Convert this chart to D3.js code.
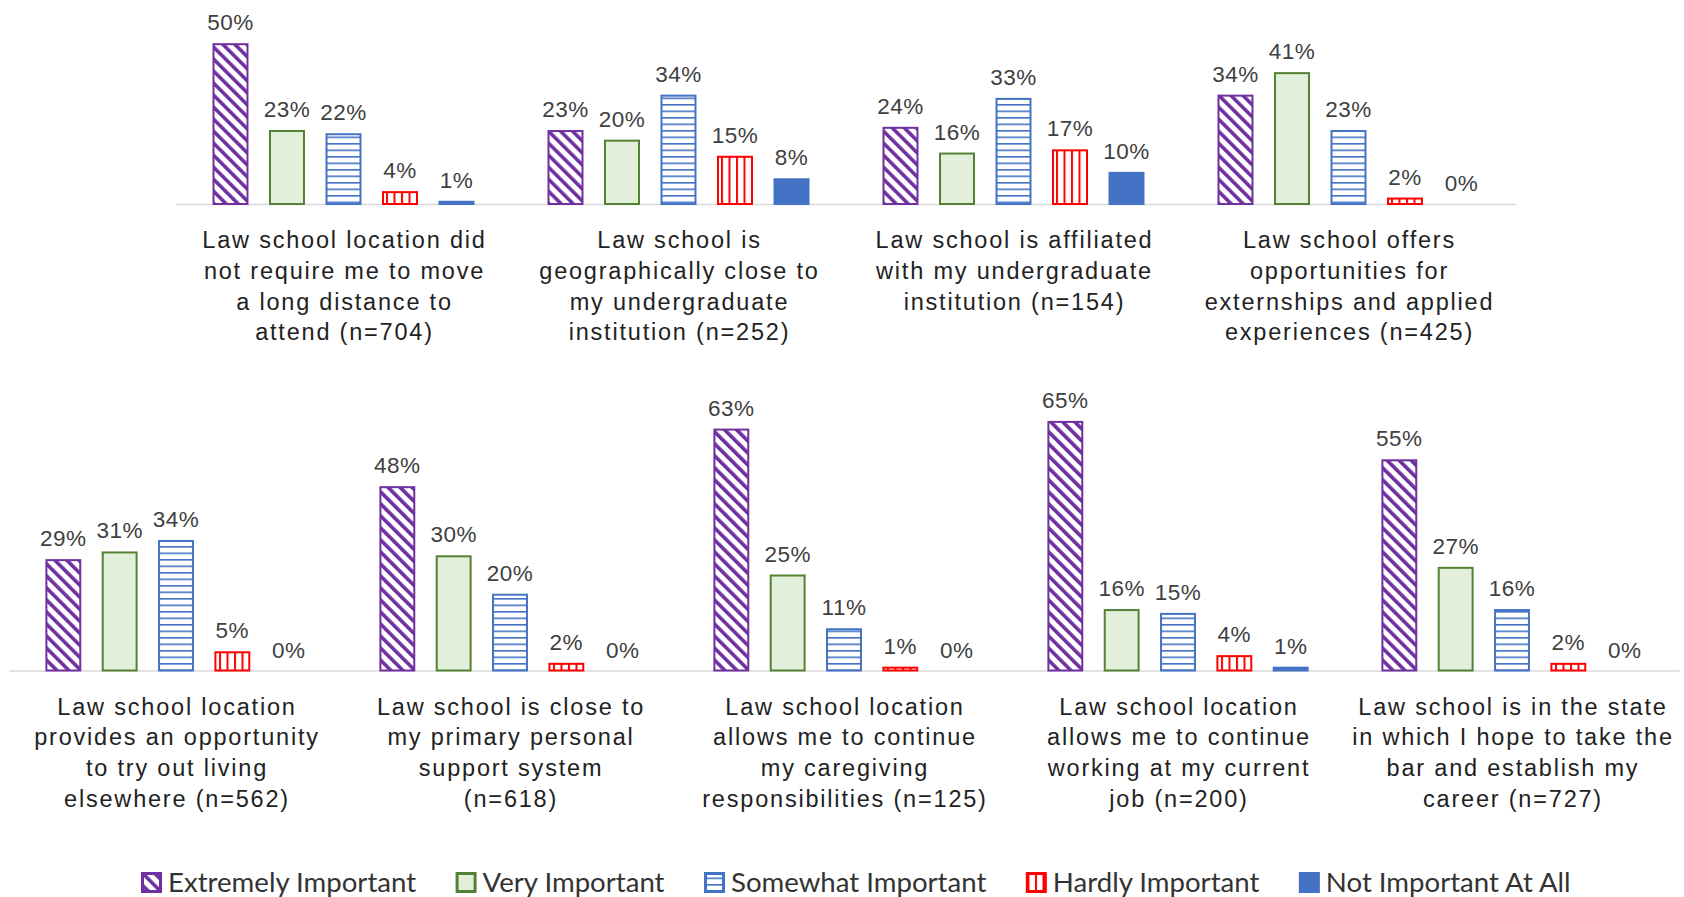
<!DOCTYPE html>
<html>
<head>
<meta charset="utf-8">
<script src="https://cdn.jsdelivr.net/npm/d3@7"></script>
<style>
  html, body { margin: 0; padding: 0; background: #fff; }
  svg { display: block; }
  .cat { font-family: "Liberation Sans", Arial, sans-serif; font-size: 23.5px; fill: #222; letter-spacing: 1.8px; }
  .val { font-family: "Liberation Sans", Arial, sans-serif; font-size: 22.5px; fill: #404040; letter-spacing: 0.5px; }
  .leg { font-family: Lato, "Noto Sans", sans-serif; font-size: 27.6px; fill: #333; }
</style>
</head>
<body>
<svg id="chart" width="1684" height="897"></svg>
<script>
// Importance ratings of location-related factors when choosing a law school (% of respondents)
const series = ["Extremely Important", "Very Important", "Somewhat Important", "Hardly Important", "Not Important At All"];

const topCategories = [
  "Law school location did\nnot require me to move\na long distance to\nattend (n=704)",
  "Law school is\ngeographically close to\nmy undergraduate\ninstitution (n=252)",
  "Law school is affiliated\nwith my undergraduate\ninstitution (n=154)",
  "Law school offers\nopportunities for\nexternships and applied\nexperiences (n=425)"
];
const bottomCategories = [
  "Law school location\nprovides an opportunity\nto try out living\nelsewhere (n=562)",
  "Law school is close to\nmy primary personal\nsupport system\n(n=618)",
  "Law school location\nallows me to continue\nmy caregiving\nresponsibilities (n=125)",
  "Law school location\nallows me to continue\nworking at my current\njob (n=200)",
  "Law school is in the state\nin which I hope to take the\nbar and establish my\ncareer (n=727)"
];

// one value per category, top row first then bottom row
const extremelyImportant = [50, 23, 24, 34, 29, 48, 63, 65, 55];
const veryImportant      = [23, 20, 16, 41, 31, 30, 25, 16, 27];
const somewhatImportant  = [22, 34, 33, 23, 34, 20, 11, 15, 16];
const hardlyImportant    = [4, 15, 17, 2, 5, 2, 1, 4, 2];
const notImportantAtAll  = [1, 8, 10, 0, 0, 0, 0, 1, 0];

const seriesValues = [extremelyImportant, veryImportant, somewhatImportant, hardlyImportant, notImportantAtAll];

const svg = d3.select("#chart");
const defs = svg.append("defs");

// fill patterns
const purple = "#7030A0", green = "#548235", greenFill = "#E2EFDA", blue = "#4472C4", red = "#FF0000";

const pDiag = defs.append("pattern").attr("id", "pDiag")
  .attr("patternUnits", "userSpaceOnUse").attr("width", 8.5).attr("height", 8.5)
  .attr("patternTransform", "rotate(-45)");
pDiag.append("rect").attr("width", 8.5).attr("height", 8.5).attr("fill", "#fff");
pDiag.append("rect").attr("width", 3.6).attr("height", 8.5).attr("fill", purple);

const pHoriz = defs.append("pattern").attr("id", "pHoriz")
  .attr("patternUnits", "userSpaceOnUse").attr("width", 10).attr("height", 6.5);
pHoriz.append("rect").attr("width", 10).attr("height", 6.5).attr("fill", "#fff");
pHoriz.append("rect").attr("width", 10).attr("height", 1.6).attr("fill", blue);

const pVert = defs.append("pattern").attr("id", "pVert")
  .attr("patternUnits", "userSpaceOnUse").attr("width", 7.5).attr("height", 10);
pVert.append("rect").attr("width", 7.5).attr("height", 10).attr("fill", "#fff");
pVert.append("rect").attr("width", 2).attr("height", 10).attr("fill", red);

const styles = [
  { fill: "url(#pDiag)", stroke: purple },
  { fill: greenFill, stroke: green },
  { fill: "url(#pHoriz)", stroke: blue },
  { fill: "url(#pVert)", stroke: red },
  { fill: blue, stroke: blue }
];

function drawRow(categories, offset, xRange, baseY, yMax, pxPerPct) {
  const g = svg.append("g");
  const x0 = d3.scaleBand().domain(d3.range(categories.length)).range(xRange);
  const x1 = d3.scaleBand().domain(d3.range(series.length)).range([0, x0.bandwidth()])
    .paddingInner(0.363).paddingOuter(0.646);
  const y = d3.scaleLinear().domain([0, yMax]).range([baseY, baseY - yMax * pxPerPct]);

  // category axis line
  const axis = g.append("g").attr("transform", `translate(0,${baseY})`)
    .call(d3.axisBottom(x0).tickSize(0).tickSizeOuter(0).tickFormat(""));
  axis.select(".domain").attr("stroke", "#D9D9D9").attr("stroke-width", 1.6);

  const groups = g.selectAll(".grp").data(categories).join("g")
    .attr("transform", (d, i) => `translate(${x0(i)},0)`);

  groups.each(function(cat, ci) {
    const grp = d3.select(this);
    series.forEach((s, si) => {
      const v = seriesValues[si][offset + ci];
      const bx = x1(si), bw = x1.bandwidth();
      if (v > 0) {
        grp.append("rect")
          .attr("x", bx + 1).attr("width", bw - 2)
          .attr("y", y(v) + 1).attr("height", Math.max(0, y(0) - y(v) - 1))
          .attr("fill", styles[si].fill).attr("stroke", styles[si].stroke).attr("stroke-width", 2);
      }
      grp.append("text").attr("class", "val")
        .attr("x", bx + bw / 2).attr("y", y(v) - 13)
        .attr("text-anchor", "middle").text(v + "%");
    });
    const label = grp.append("text").attr("class", "cat")
      .attr("text-anchor", "middle")
      .attr("x", x0.bandwidth() / 2 + 1).attr("y", baseY + 44);
    cat.split("\n").forEach((line, li) => {
      label.append("tspan").attr("x", x0.bandwidth() / 2 + 1).attr("dy", li === 0 ? 0 : 30.8).text(line);
    });
  });
}

drawRow(topCategories, 0, [176, 1516], 204, 60, 3.216);
drawRow(bottomCategories, topCategories.length, [9, 1679], 670.5, 70, 3.84);

// legend
const legend = svg.append("g");
let lx = 141;
series.forEach((s, si) => {
  legend.append("rect")
    .attr("x", lx + 1.5).attr("y", 873.5).attr("width", 18).attr("height", 18)
    .attr("fill", styles[si].fill).attr("stroke", styles[si].stroke).attr("stroke-width", 3);
  const t = legend.append("text").attr("class", "leg")
    .attr("x", lx + 27).attr("y", 892).text(s);
  lx += 27 + t.node().getComputedTextLength() + 39.5;
});
</script>
</body>
</html>
